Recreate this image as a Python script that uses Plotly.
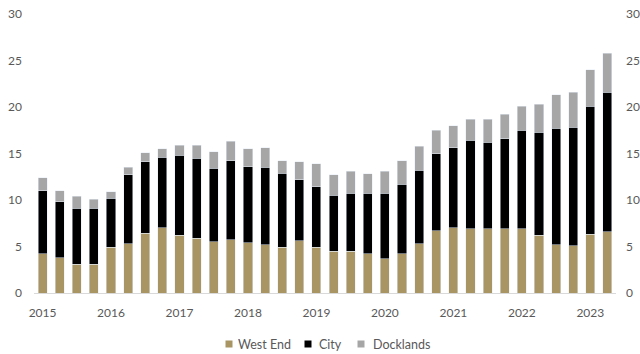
import plotly.graph_objects as go

years = list(range(2015, 2024))
quarters = [f"{y} Q{q}" for y in years for q in range(1, 5)][:34]
year_ticks = [f"{y} Q1" for y in years]
year_labels = [str(y) for y in years]
series_names = ["West End", "City", "Docklands"]
series_colors = ["#A89563", "#000000", "#A6A6A6"]

# Cumulative tops
west_end_top = [4.2, 3.8, 3.1, 3.1, 4.9, 5.3, 6.4, 7.0, 6.2, 5.9, 5.5, 5.7,
                5.4, 5.2, 4.9, 5.6, 4.9, 4.5, 4.5, 4.2, 3.7, 4.2, 5.3, 6.7,
                7.0, 6.9, 6.9, 6.9, 6.9, 6.2, 5.2, 5.1, 6.3, 6.6]
city_top = [11.0, 9.8, 9.1, 9.1, 10.2, 12.7, 14.1, 14.6, 14.8, 14.5, 13.4, 14.2,
            13.6, 13.5, 12.9, 12.2, 11.4, 10.5, 10.7, 10.7, 10.7, 11.7, 13.2, 15.0,
            15.6, 16.4, 16.2, 16.6, 17.5, 17.3, 17.7, 17.8, 20.1, 21.6]
dock_top = [12.4, 11.0, 10.4, 10.1, 10.9, 13.5, 15.1, 15.5, 15.9, 15.9, 15.2, 16.3,
            15.5, 15.6, 14.2, 14.1, 13.9, 12.7, 13.1, 12.8, 13.1, 14.2, 15.8, 17.5,
            18.0, 18.7, 18.7, 19.2, 20.1, 20.3, 21.3, 21.6, 24.0, 25.8]

west_end = west_end_top
city = [round(c - w, 2) for c, w in zip(city_top, west_end_top)]
docklands = [round(d - c, 2) for d, c in zip(dock_top, city_top)]
series_values = [west_end, city, docklands]

font_family = "Lato, 'Open Sans', sans-serif"
gray = "#595959"

W, H = 640, 354
ML, MR, MT, MB = 34, 24, 14, 61
PW, PH = W - ML - MR, H - MT - MB

def px_x(p):
    return (p - ML) / PW

def px_y(p):
    return (H - MB - p) / PH

fig = go.Figure()
for name, vals, col in zip(series_names, series_values, series_colors):
    fig.add_trace(go.Bar(x=quarters, y=vals, name=name, marker_color=col, showlegend=False))
fig.add_trace(go.Scatter(x=quarters, y=dock_top, yaxis="y2", mode="markers",
                         marker=dict(opacity=0), showlegend=False, hoverinfo="skip"))

# legend drawn as swatches + text
legend_sq = [225.5, 304.5, 357.5]
legend_tx = [236, 317, 371]
shapes, annotations = [], []
for name, col, sx, tx in zip(series_names, series_colors, legend_sq, legend_tx):
    shapes.append(dict(type="rect", xref="paper", yref="paper",
                       x0=px_x(sx), x1=px_x(sx + 7), y0=px_y(347.5), y1=px_y(340.5),
                       fillcolor=col, line=dict(width=0)))
    annotations.append(dict(text=name, xref="paper", yref="paper", x=px_x(tx), y=px_y(344),
                            xanchor="left", yanchor="middle", showarrow=False,
                            font=dict(size=12.5, color=gray, family=font_family)))

fig.update_layout(
    width=W, height=H,
    barmode="stack", bargap=0.47,
    plot_bgcolor="white", paper_bgcolor="white",
    margin=dict(l=ML, r=MR, t=MT, b=MB, autoexpand=False),
    font=dict(family=font_family, size=12, color=gray),
    showlegend=False,
    xaxis=dict(type="category", categoryorder="array", categoryarray=quarters,
               range=[-0.5, 33.5], tickmode="array", tickvals=year_ticks,
               ticktext=year_labels, showgrid=False, showline=True,
               linecolor="#D9D9D9", linewidth=1, ticks="", ticklabelstandoff=9,
               tickfont=dict(size=12, color=gray)),
    yaxis=dict(range=[0, 30], tickvals=[0, 5, 10, 15, 20, 25, 30], showgrid=False,
               zeroline=False, showline=False, ticks="", ticklabelstandoff=11,
               tickfont=dict(size=12, color=gray)),
    yaxis2=dict(range=[0, 30], tickvals=[0, 5, 10, 15, 20, 25, 30], overlaying="y",
                side="right", showgrid=False, zeroline=False, showline=False, ticks="",
                ticklabelstandoff=9, tickfont=dict(size=12, color=gray)),
    shapes=shapes,
    annotations=annotations,
)

fig.write_html("out.html")
